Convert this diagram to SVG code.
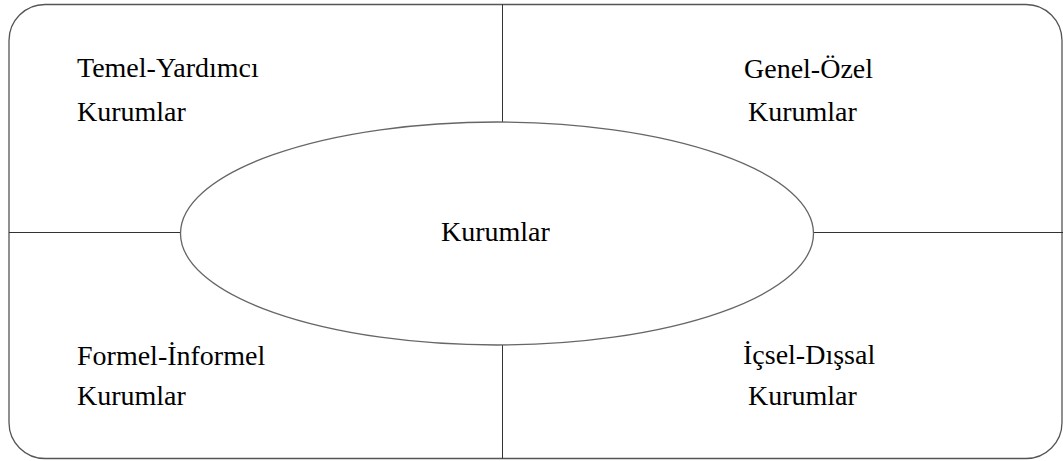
<svg xmlns="http://www.w3.org/2000/svg" width="1063" height="461" viewBox="0 0 1063 461">
  <style>
    .frame { fill: #ffffff; stroke: #555555; stroke-width: 1.3; }
    .rule { stroke: #333333; stroke-width: 1; fill: none; }
    .hub { fill: #ffffff; stroke: #666666; stroke-width: 1.3; }
    .lbl { font-size: 28px; fill: #000000; }
  </style>
  <rect width="1063" height="461" fill="#ffffff"/>
  <!-- outer rounded frame -->
  <rect class="frame" x="9" y="4.5" width="1053" height="454" rx="36" ry="36"/>
  <!-- dividing lines between the four quadrants -->
  <g id="connectors">
    <line class="rule" x1="502.5" y1="4.5" x2="502.5" y2="123"/>
    <line class="rule" x1="502.5" y1="345" x2="502.5" y2="458.5"/>
    <line class="rule" x1="9" y1="232.5" x2="181" y2="232.5"/>
    <line class="rule" x1="813" y1="232.5" x2="1063" y2="232.5"/>
  </g>
  <g font-family="'Liberation Serif', Tinos, 'Times New Roman', 'DejaVu Serif', serif">
    <!-- central ellipse -->
    <g id="center">
      <ellipse class="hub" cx="497" cy="233.5" rx="316.5" ry="111.5"/>
      <text class="lbl" x="441" y="241">Kurumlar</text>
    </g>
    <g id="top-left">
      <text class="lbl" x="77" y="77">Temel-Yardımcı</text>
      <text class="lbl" x="77" y="121">Kurumlar</text>
    </g>
    <g id="top-right">
      <text class="lbl" x="744" y="78">Genel-Özel</text>
      <text class="lbl" x="748" y="121">Kurumlar</text>
    </g>
    <g id="bottom-left">
      <text class="lbl" x="77" y="365">Formel-İnformel</text>
      <text class="lbl" x="77" y="405">Kurumlar</text>
    </g>
    <g id="bottom-right">
      <text class="lbl" x="743" y="364">İçsel-Dışsal</text>
      <text class="lbl" x="748" y="405">Kurumlar</text>
    </g>
  </g>
</svg>
